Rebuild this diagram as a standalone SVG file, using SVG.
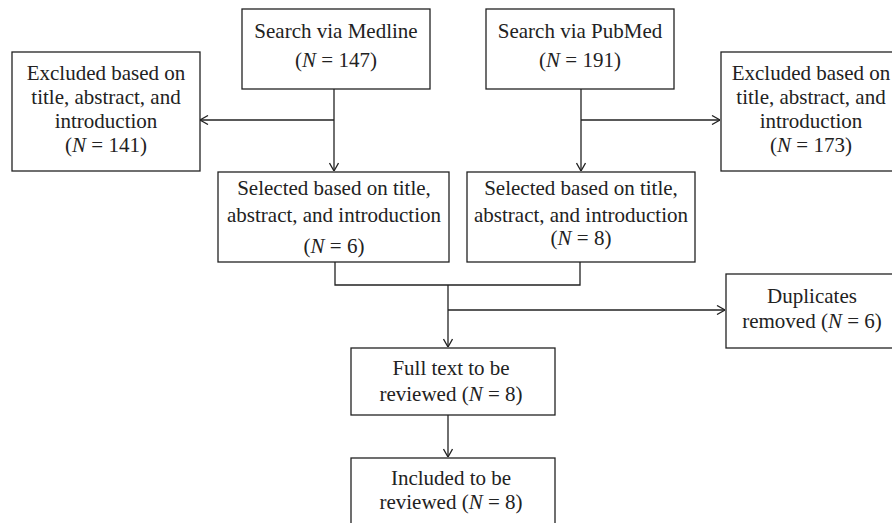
<svg xmlns="http://www.w3.org/2000/svg" width="892" height="523" viewBox="0 0 892 523">
<style>
.box{fill:#fff;stroke:#222;stroke-width:1.3}
.ln{fill:none;stroke:#222;stroke-width:1.3}
text{font-family:"Liberation Serif","Times New Roman",serif;font-size:21px;fill:#222;text-anchor:middle}
.i{font-style:italic}
</style>
<defs>
<marker id="ah" viewBox="0 0 10 10" refX="10" refY="5" markerWidth="10" markerHeight="10" markerUnits="userSpaceOnUse" orient="auto">
<path d="M2,0.5 L10,5 L2,9.5" fill="none" stroke="#222" stroke-width="1.3"/>
</marker>
</defs>
<rect width="892" height="523" fill="#fff"/>
<g id="connectors">
<path class="ln" d="M334,89 V171" marker-end="url(#ah)"/>
<path class="ln" d="M334,120 H200" marker-end="url(#ah)"/>
<path class="ln" d="M581,89 V171" marker-end="url(#ah)"/>
<path class="ln" d="M581,120 H720" marker-end="url(#ah)"/>
<path class="ln" d="M335,262 V285 H580 V262"/>
<path class="ln" d="M448,285 V347" marker-end="url(#ah)"/>
<path class="ln" d="M448,310 H725" marker-end="url(#ah)"/>
<path class="ln" d="M448,415 V457" marker-end="url(#ah)"/>
</g>
<g id="medline">
<rect class="box" x="242" y="9" width="188" height="80"/>
<text x="336" y="38">Search via Medline</text>
<text x="336" y="67">(<tspan class="i">N</tspan> = 147)</text>
</g>
<g id="pubmed">
<rect class="box" x="486" y="9" width="188" height="80"/>
<text x="580" y="38">Search via PubMed</text>
<text x="580" y="67">(<tspan class="i">N</tspan> = 191)</text>
</g>
<g id="excluded-left">
<rect class="box" x="12" y="52" width="188" height="119"/>
<text x="106" y="80">Excluded based on</text>
<text x="106" y="104">title, abstract, and</text>
<text x="106" y="128">introduction</text>
<text x="106" y="152">(<tspan class="i">N</tspan> = 141)</text>
</g>
<g id="excluded-right">
<rect class="box" x="721" y="52" width="190" height="119"/>
<text x="811" y="80">Excluded based on</text>
<text x="811" y="104">title, abstract, and</text>
<text x="811" y="128">introduction</text>
<text x="811" y="152">(<tspan class="i">N</tspan> = 173)</text>
</g>
<g id="selected-left">
<rect class="box" x="218" y="172" width="231" height="90"/>
<text x="334" y="195">Selected based on title,</text>
<text x="334" y="222">abstract, and introduction</text>
<text x="334" y="253">(<tspan class="i">N</tspan> = 6)</text>
</g>
<g id="selected-right">
<rect class="box" x="467" y="172" width="228" height="90"/>
<text x="581" y="195">Selected based on title,</text>
<text x="581" y="222">abstract, and introduction</text>
<text x="581" y="245">(<tspan class="i">N</tspan> = 8)</text>
</g>
<g id="duplicates">
<rect class="box" x="726" y="274" width="180" height="74"/>
<text x="812" y="303">Duplicates</text>
<text x="812" y="328">removed (<tspan class="i">N</tspan> = 6)</text>
</g>
<g id="fulltext">
<rect class="box" x="351" y="348" width="204" height="67"/>
<text x="451" y="375">Full text to be</text>
<text x="451" y="401">reviewed (<tspan class="i">N</tspan> = 8)</text>
</g>
<g id="included">
<rect class="box" x="351" y="458" width="204" height="80"/>
<text x="451" y="485">Included to be</text>
<text x="451" y="509">reviewed (<tspan class="i">N</tspan> = 8)</text>
</g>
</svg>
